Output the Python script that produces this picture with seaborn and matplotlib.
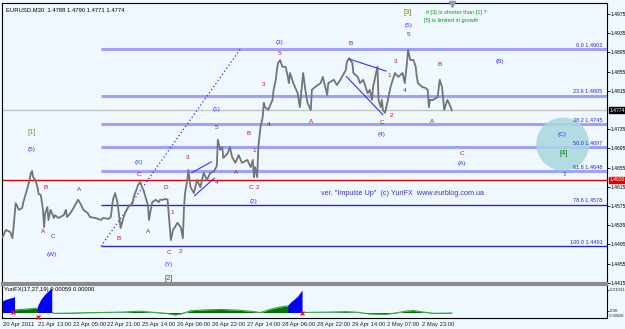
import numpy as np
import pandas as pd
import matplotlib.pyplot as plt
import seaborn as sns
from matplotlib.patches import Ellipse
import matplotlib.transforms as mtrans

# EURUSD M30 - price path (bar index, price)
bars = [0, 3, 7, 9, 10, 12, 15, 18, 19, 23, 24, 26, 27, 28, 30, 32, 33, 35, 37, 38,
        39, 41, 42, 44, 47, 48, 51, 56, 58, 59, 62, 65, 69, 71, 74, 78, 80, 85, 90, 92,
        97, 99, 101, 103, 105, 106, 108, 110, 112, 115, 119, 120, 123, 124, 126, 128, 129, 131, 133, 134,
        135, 137, 140, 143, 144, 147, 149, 151,
        152, 154, 156, 160, 163, 165, 166, 167, 169, 170, 172, 175, 178, 181, 184, 187, 190, 193, 196, 197,
        199, 201, 202, 206, 208, 210, 213, 216, 219, 224, 227, 229, 230, 231, 233, 234, 236, 238, 239, 240,
        243, 247, 248, 250, 251, 252, 254, 256, 259, 261, 262, 263, 266, 270, 272, 275, 277,
        279, 282, 283, 286, 291, 293, 297, 298, 303, 306, 309, 314, 315, 317, 320, 321, 325, 327, 330, 334,
        336, 338, 339, 343, 344, 346, 347, 348, 350, 353, 355, 357, 359, 362, 366, 368, 370, 371, 373, 376,
        378, 379, 380, 384, 387, 389, 390, 391, 394, 398, 400, 402, 403, 404, 406, 407, 410, 411]
prices = [1.4510, 1.4525, 1.4521, 1.4508, 1.4529, 1.4581, 1.4567, 1.4571, 1.4583, 1.4614, 1.4623, 1.4644, 1.4648, 1.4635, 1.4629, 1.4614, 1.4600, 1.4598, 1.4567, 1.4531,
          1.4560, 1.4573, 1.4546, 1.4567, 1.4550, 1.4556, 1.4550, 1.4556, 1.4567, 1.4552, 1.4560, 1.4571, 1.4588, 1.4581, 1.4567, 1.4560, 1.4552, 1.4550, 1.4546, 1.4550,
          1.4548, 1.4552, 1.4588, 1.4602, 1.4583, 1.4567, 1.4529, 1.4546, 1.4560, 1.4573, 1.4581, 1.4594, 1.4612, 1.4619, 1.4625, 1.4612, 1.4608, 1.4592, 1.4577, 1.4546,
          1.4560, 1.4583, 1.4588, 1.4583, 1.4588, 1.4588, 1.4590, 1.4588,
          1.4560, 1.4504, 1.4525, 1.4540, 1.4531, 1.4508, 1.4573, 1.4602, 1.4629, 1.4650, 1.4614, 1.4602, 1.4629, 1.4614, 1.4644, 1.4629, 1.4644, 1.4646, 1.4658, 1.4713,
          1.4692, 1.4698, 1.4675, 1.4685, 1.4698, 1.4677, 1.4665, 1.4681, 1.4665, 1.4671, 1.4656, 1.4671, 1.4635, 1.4656, 1.4635, 1.4698, 1.4740, 1.4760, 1.4790, 1.4781,
          1.4775, 1.4796, 1.4817, 1.4838, 1.4858, 1.4873, 1.4879, 1.4865, 1.4865, 1.4844, 1.4831, 1.4852, 1.4831, 1.4810, 1.4781, 1.4852, 1.4817,
          1.4790, 1.4775, 1.4817, 1.4823, 1.4831, 1.4844, 1.4806, 1.4831, 1.4838, 1.4827, 1.4838, 1.4858, 1.4875, 1.4883, 1.4873, 1.4852, 1.4844, 1.4831, 1.4838, 1.4810,
          1.4817, 1.4796, 1.4823, 1.4865, 1.4796, 1.4781, 1.4796, 1.4775, 1.4769, 1.4802, 1.4823, 1.4838, 1.4852, 1.4844, 1.4852, 1.4831, 1.4873, 1.4900, 1.4879, 1.4879,
          1.4865, 1.4844, 1.4831, 1.4823, 1.4821, 1.4817, 1.4781, 1.4796, 1.4796, 1.4802, 1.4838, 1.4823, 1.4802, 1.4775, 1.4790, 1.4796, 1.4781, 1.4774]

# Fibonacci retracement levels
fib_levels = ['0.0', '23.6', '38.2', '50.0', '61.8', '78.6', '100.0']
fib_prices = [1.4902, 1.4805, 1.4745, 1.4697, 1.4648, 1.4578, 1.4491]
fib_start = 90
last_price = 1.4774
red_level = 1.4630

# YuriFX oscillator
osc_bars = [11, 20, 32, 45, 47, 60, 75, 90, 110, 125, 135, 150, 158, 165, 172, 185, 200, 215, 228, 236,
            245, 255, 261, 274, 285, 300, 315, 325, 335, 350, 360, 370, 376, 385, 395, 405, 411]
osc_vals = [0.0012, 0.0015, 0.0020, 0.0000, -0.0004, -0.0003, -0.0001, 0.0000, 0.0002, 0.0006, 0.0002, -0.0004, -0.0011, -0.0004, 0.0008, 0.0012, 0.0014, 0.0011, 0.0005, 0.0000,
            0.0015, 0.0026, 0.0030, 0.0000, 0.0001, 0.0002, 0.0004, 0.0001, -0.0006, -0.0008, -0.0002, 0.0007, 0.0009, 0.0002, -0.0004, -0.0003, -0.0002]
impulse1_bars = [0, 3, 6, 9, 11]
impulse1_vals = [0.0054, 0.0060, 0.0065, 0.0069, 0.0072]
impulse2_bars = [32, 35, 38, 41, 44, 45]
impulse2_vals = [0.0030, 0.0060, 0.0080, 0.0095, 0.0108, 0.0115]
impulse3_bars = [261, 264, 267, 270, 272, 274]
impulse3_vals = [0.0034, 0.0050, 0.0062, 0.0075, 0.0090, 0.0103]
cross_bars = [10, 274]
cross_vals = [0.0003, 0.0000]

tick_bars = [0, 32, 64, 96, 128, 160, 192, 224, 256, 288, 320, 352, 384]
tick_labels = ['20 Apr 2011', '21 Apr 13:00', '22 Apr 05:00', '22 Apr 21:00', '25 Apr 14:00',
               '26 Apr 06:00', '26 Apr 22:00', '27 Apr 14:00', '28 Apr 06:00', '28 Apr 22:00',
               '29 Apr 14:00', '2 May 07:00', '2 May 23:00']
price_ticks = [1.4975, 1.4935, 1.4895, 1.4855, 1.4815, 1.4735, 1.4695, 1.4655,
               1.4615, 1.4575, 1.4535, 1.4495, 1.4455, 1.4415]

# wave labels: (text, bar, price)
red_labels = [('B', 39, 1.4613), ('A', 37, 1.4521), ('C', 46, 1.4512), ('A', 70, 1.4610),
              ('C', 125, 1.4640), ('D', 149, 1.4613), ('B', 106, 1.4508), ('A', 133, 1.4521),
              ('1', 155, 1.4562), ('C', 152, 1.4479), ('2', 163, 1.4481), ('3', 169, 1.4677),
              ('4', 196, 1.4625), ('5', 196, 1.4738), ('A', 214, 1.4644), ('B', 225, 1.4727),
              ('1', 230, 1.4690), ('C', 227, 1.4613), ('2', 233, 1.4613), ('4', 243, 1.4744),
              ('3', 239, 1.4829), ('5', 253, 1.4892), ('A', 282, 1.4752), ('B', 318, 1.4913),
              ('3', 360, 1.4877), ('1', 354, 1.4846), ('4', 368, 1.4815), ('2', 356, 1.4763),
              ('C', 347, 1.4748), ('A', 393, 1.4752), ('5', 371, 1.4933), ('B', 400, 1.4869),
              ('C', 420, 1.4685)]
blue_labels = [('(5)', 27, 1.4692), ('(W)', 45, 1.4475), ('(X)', 125, 1.4665), ('(Y)', 152, 1.4454),
               ('(1)', 196, 1.4775), ('(2)', 230, 1.4585), ('(3)', 253, 1.4915), ('(4)', 347, 1.4723),
               ('(5)', 371, 1.4952), ('(B)', 455, 1.4877), ('(A)', 420, 1.4663), ('(C)', 512, 1.4723),
               ('\u21e7', 514, 1.4640)]
green_labels = [('[1]', 27, 1.4729, '#8a9a00'), ('[2]', 152, 1.4425, '#008000'),
                ('[3]', 371, 1.4979, '#808000'), ('[4]', 513, 1.4685, '#008000')]

# hand-drawn lines (bar0, price0, bar1, price1)
channel = (90, 1.4491, 217.5, 1.4902)
wedges = [(172.8, 1.4644, 191.0, 1.4667), (175.5, 1.4596, 193.8, 1.4633),
          (317.5, 1.4881, 351.0, 1.4856), (314.5, 1.4845, 348.0, 1.4765)]

sns.set_style('white')
plt.rcParams['font.family'] = ['Liberation Sans', 'DejaVu Sans']
narrow = ['Liberation Sans Narrow', 'Liberation Sans', 'DejaVu Sans']

bg = '#f0f8ff'
fig = plt.figure(figsize=(6.25, 3.29), dpi=100)
fig.patch.set_facecolor(bg)
ax = fig.add_axes([2/625, 1-283/329, 605/625, 280/329])
ax2 = fig.add_axes([2/625, 1-318/329, 605/625, 33/329], sharex=ax)
for a in (ax, ax2):
    a.set_facecolor(bg)

xmax = 553
ax.set_xlim(-0.5, xmax)
ax.set_ylim(1.44146, 1.49979)

# horizontal levels
ax.axhline(last_price, color='#c4c4c4', lw=1, zorder=1)
ax.axhline(red_level, color='#e00000', lw=1, zorder=2)
for lvl, p in zip(fib_levels, fib_prices):
    heavy = lvl not in ('78.6', '100.0')
    ax.hlines(p, fib_start, xmax, color='#a0a0ff' if heavy else '#2828d0',
              lw=2.2 if heavy else 1.0, zorder=2)
    ax.text(xmax - 4, p + 0.0003, f'{lvl} {p:.4f}', ha='right', va='bottom',
            fontsize=4.0, family=narrow, color='#2828d0', zorder=5)

# circle around target zone
circ = Ellipse((512.5, 1.4704), 48.5, 0.01104, color='#a8d8dc', alpha=0.85, zorder=3, lw=0)
ax.add_patch(circ)

# price
df = pd.DataFrame({'bar': bars, 'price': prices})
sns.lineplot(data=df, x='bar', y='price', ax=ax, color='#747474', lw=1.3,
             estimator=None, sort=False, legend=False, zorder=4)

# trend lines
ax.plot([channel[0], channel[2]], [channel[1], channel[3]], color='#2a2aff', lw=0.9,
        ls=(0, (1, 2)), zorder=3)
for b0, p0, b1, p1 in wedges:
    ax.plot([b0, b1], [p0, p1], color='#3030ff', lw=0.8, zorder=5)

# wave labels
for t, b, p in red_labels:
    ax.text(b, p, t, color='#a32020', fontsize=4.6, ha='center', va='center', zorder=6)
for t, b, p in blue_labels:
    ax.text(b, p, t, color='#3333ff', fontsize=4.6, ha='center', va='center', zorder=6)
for t, b, p, c in green_labels:
    ax.text(b, p, t, color=c, fontsize=5.4, ha='center', va='center', zorder=6)

ax.text(387, 1.4979, 'if [3] is shorter than [1] ?', color='#119911', fontsize=4.1, va='center')
ax.text(386, 1.4961, '[5] is limited in growth', color='#119911', fontsize=4.1, va='center')
ax.text(291, 1.4602, 'ver. "Impulse Up"  (c) YuriFX  www.eurblog.com.ua', color='#3333cc',
        fontsize=5.2, va='center')
ax.text(0.006, 0.985, 'EURUSD,M30  1.4788 1.4790 1.4771 1.4774', transform=ax.transAxes,
        fontsize=4.2, family=narrow, va='top', color='black')
ax.plot([411], [1.4995], marker='v', color='#9a9a9a', ms=4, zorder=6, clip_on=False)

# right axis
ax.yaxis.tick_right()
ax.set_yticks(price_ticks)
ax.set_yticklabels([f'{p:.4f}' for p in price_ticks], family=narrow)
ax.tick_params(axis='y', labelsize=3.6, length=2, width=0.6, pad=0.5, colors='black')
ax.tick_params(axis='x', bottom=False, labelbottom=False)
ax.set_xlabel('')
ax.set_ylabel('')
trans = mtrans.blended_transform_factory(ax.transAxes, ax.transData)
ax.text(1.004, last_price, f'{last_price:.4f}', transform=trans, fontsize=3.6, family=narrow,
        color='white', va='center', ha='left',
        bbox=dict(boxstyle='square,pad=0.1', fc='black', ec='black'))
ax.text(1.004, red_level, f'{red_level:.4f}', transform=trans, fontsize=3.6, family=narrow,
        color='white', va='center', ha='left',
        bbox=dict(boxstyle='square,pad=0.1', fc='#e00000', ec='#e00000'))
for s in ax.spines.values():
    s.set_color('black')
    s.set_linewidth(0.8)
ax.spines['bottom'].set_color('#8c8c8c')
ax.spines['bottom'].set_linewidth(1.6)

# oscillator panel
ax2.set_ylim(-0.00252, 0.0126)
ax2.fill_between(osc_bars, 0, osc_vals, color='#007400', lw=0, zorder=2)
sns.lineplot(x=osc_bars, y=osc_vals, ax=ax2, color='#33aa33', lw=0.8, estimator=None,
             sort=False, legend=False, zorder=3)
for xb, yv in ((impulse1_bars, impulse1_vals), (impulse2_bars, impulse2_vals),
               (impulse3_bars, impulse3_vals)):
    ax2.fill_between(xb, 0, yv, color='#0000ff', lw=0, zorder=3)
ax2.scatter(cross_bars, cross_vals, marker='x', color='#ff0000', s=8, lw=0.9, zorder=5)
ax2.scatter([32], [-0.0021], marker='x', color='#ff0000', s=8, lw=0.9, zorder=5, clip_on=False)
ax2.text(0.004, 0.93, 'YuriFX(17,27,19) 0.00059 0.00000', transform=ax2.transAxes,
         fontsize=4.2, family=narrow, va='top', color='black')
ax2.yaxis.tick_right()
ax2.set_yticks([0.01031, 0.0008])
ax2.set_yticklabels(['0.01031', '0.00'], family=narrow)
ax2.tick_params(axis='y', labelsize=3.2, length=1.5, width=0.6, pad=0.3)
ax2.text(1.0025, -0.0018, '-0.00028', transform=mtrans.blended_transform_factory(ax2.transAxes, ax2.transData),
         fontsize=2.9, family=narrow, va='center', ha='left')
ax2.set_xticks(tick_bars)
ax2.set_xticklabels(tick_labels, ha='left', family=narrow)
ax2.tick_params(axis='x', labelsize=4.2, length=2, width=0.6, pad=1)
ax2.set_xlabel('')
ax2.set_ylabel('')
for s in ax2.spines.values():
    s.set_color('black')
    s.set_linewidth(0.8)
ax2.spines['top'].set_color('#8c8c8c')
ax2.spines['top'].set_linewidth(1.6)

fig.savefig('out.png', dpi=100, facecolor=bg)
